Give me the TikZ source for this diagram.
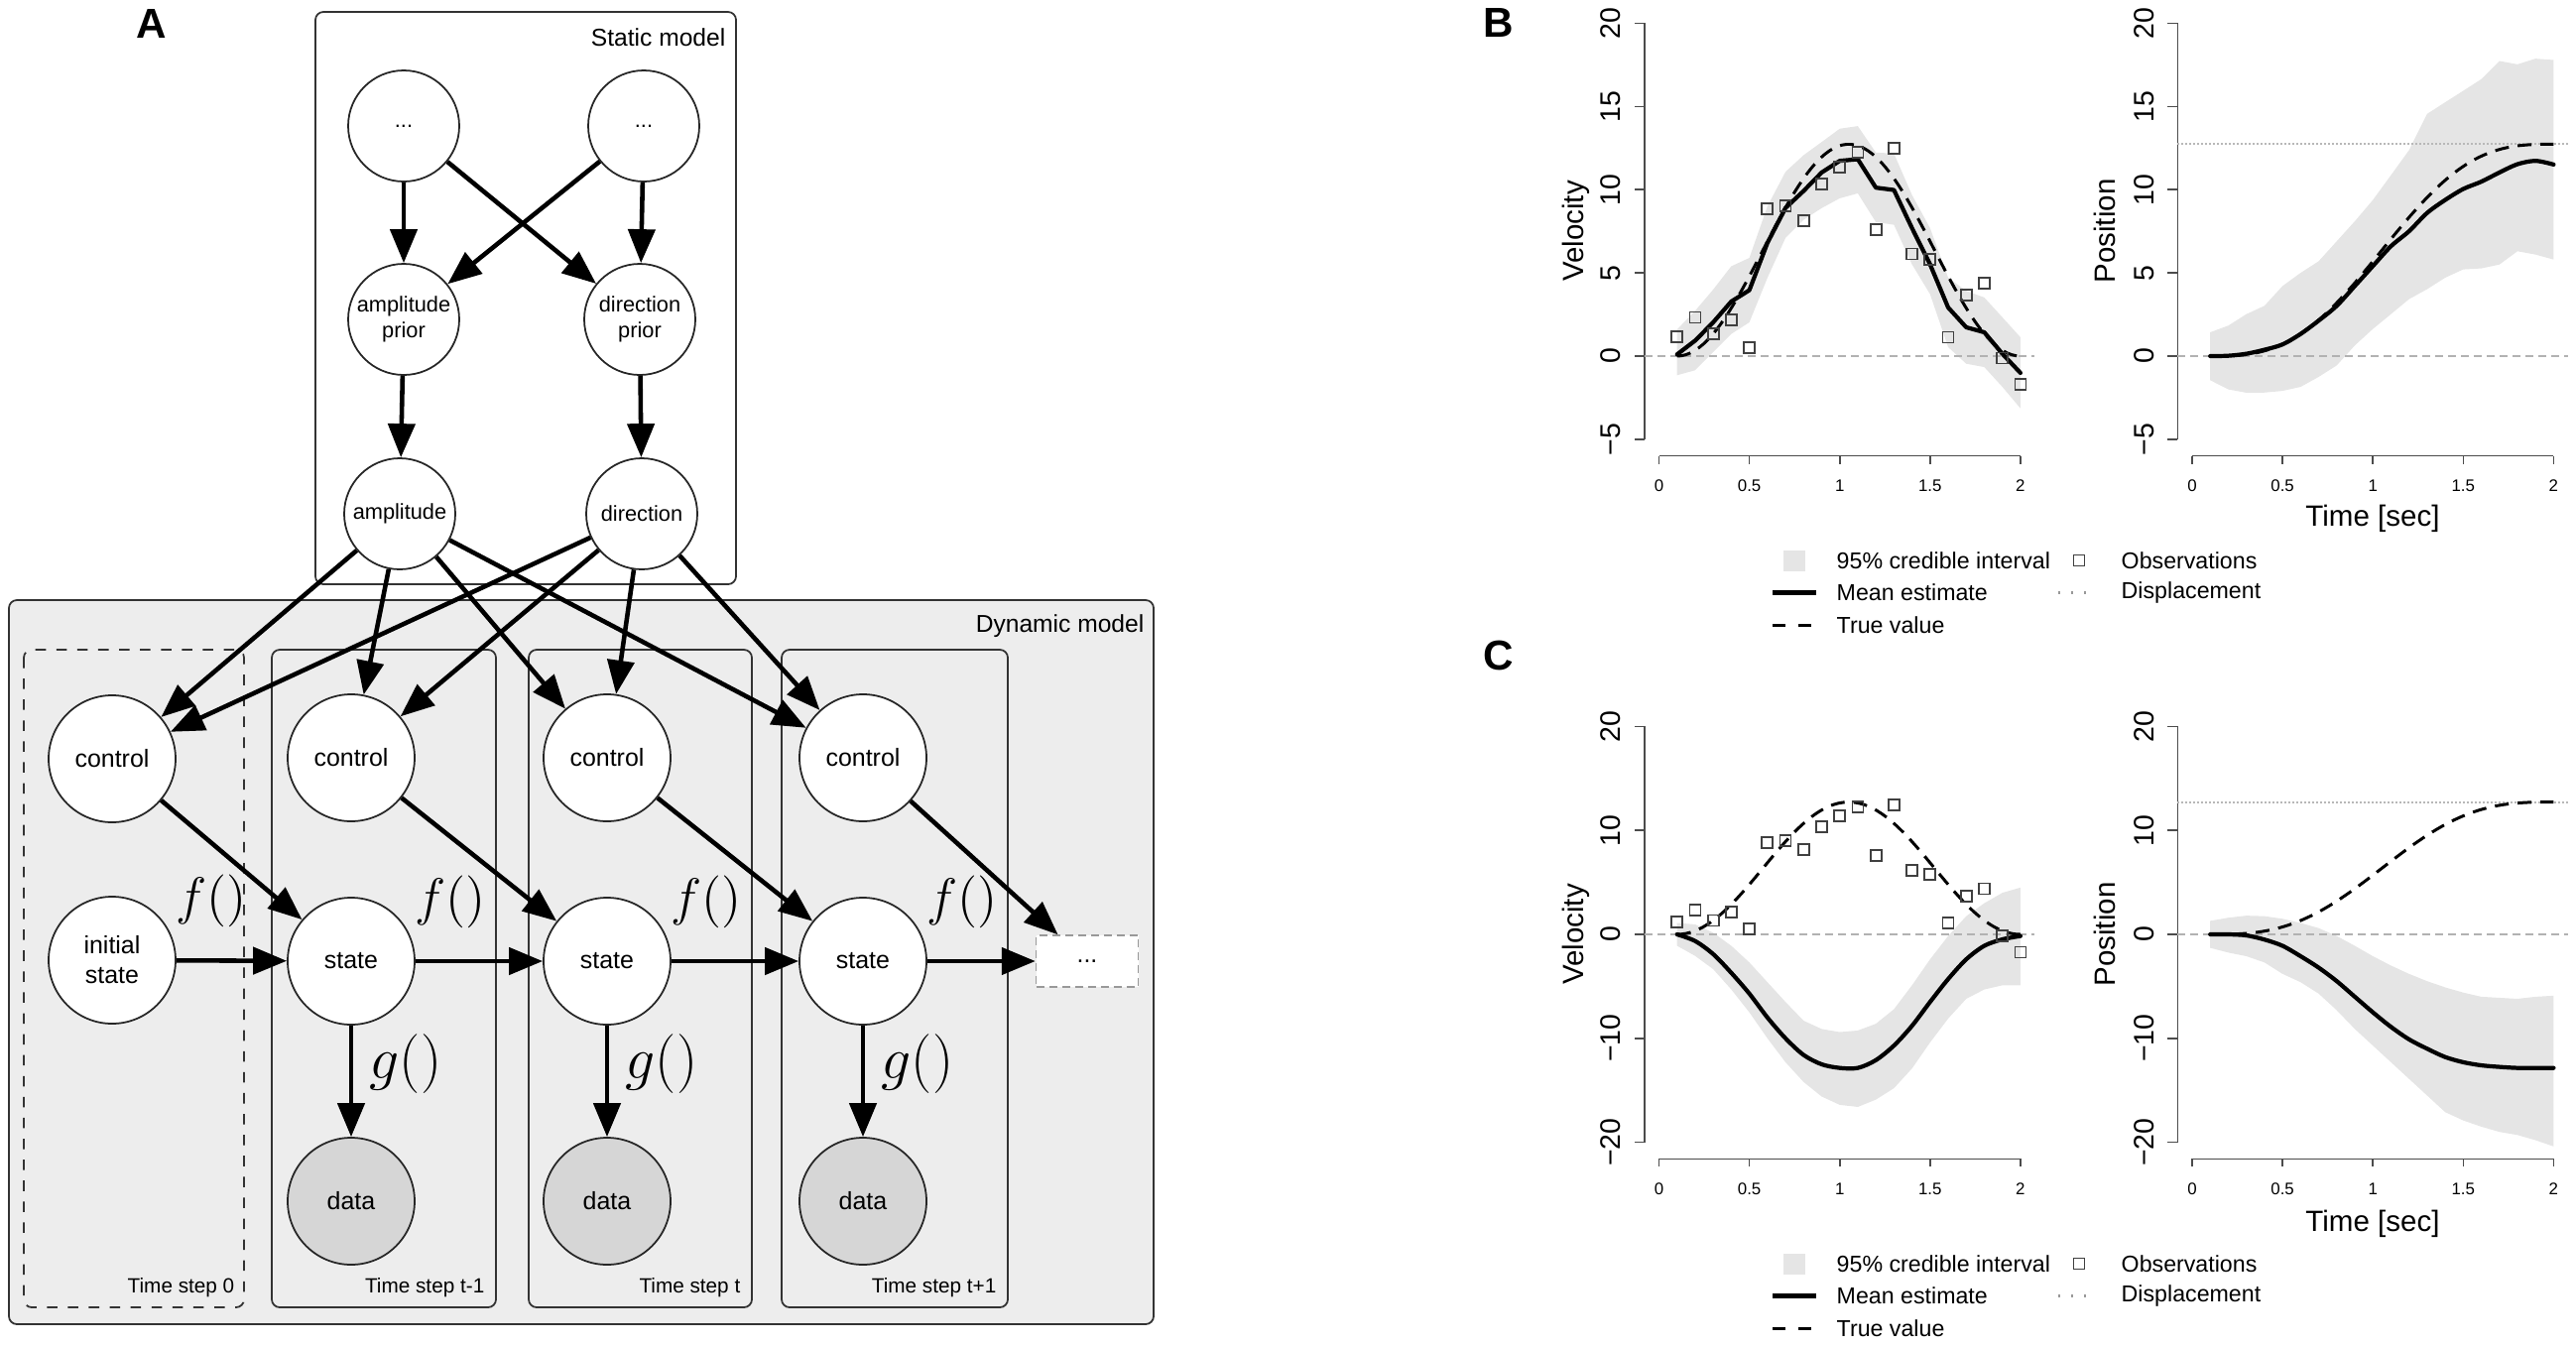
\documentclass[tikz,border=0pt]{standalone}
\usepackage{fix-cm}
\usepackage[no-math]{fontspec}
\setmainfont{Liberation Sans}
\usepackage{tikz}
\usetikzlibrary{arrows.meta}

\definecolor{plategray}{gray}{0.93}
\definecolor{datagray}{gray}{0.84}
\definecolor{bandgray}{gray}{0.9}

\begin{document}
\begin{tikzpicture}[
    var/.style={circle, draw=black!85, line width=0.5pt, fill=white, minimum size=1.28cm,
        inner sep=0pt, align=center, font=\fontsize{7.1}{8.5}\selectfont},
    svar/.style={var, minimum size=1.12cm, font=\fontsize{6.2}{7.2}\selectfont},
    datavar/.style={var, fill=datagray},
    link/.style={-{Triangle[length=0.34cm,width=0.27cm]}, line width=1.3pt},
    plate/.style={draw=black!80, line width=0.5pt, rounded corners=0.08cm},
    platename/.style={anchor=east, inner sep=0pt, font=\fontsize{7}{8.4}\selectfont},
    steplabel/.style={anchor=east, inner sep=0pt, font=\fontsize{5.9}{7}\selectfont},
    fun/.style={inner sep=0pt, font=\fontsize{15}{17}\selectfont},
    gfun/.style={inner sep=0pt, font=\fontsize{17}{20}\selectfont},
    panel/.style={inner sep=0pt, font=\fontsize{12}{14}\selectfont\bfseries},
    axisline/.style={draw=black!70, line width=0.45pt},
    ytick/.style={rotate=90, inner sep=0pt, font=\fontsize{8.1}{9}\selectfont},
    xtick/.style={inner sep=0pt, font=\fontsize{4.8}{5.5}\selectfont},
    axlabel/.style={inner sep=0pt, font=\fontsize{8.4}{10}\selectfont},
    legtext/.style={anchor=west, inner sep=0pt, font=\fontsize{6.6}{8}\selectfont},
    band/.style={fill=bandgray},
    mean/.style={line width=1.2pt, line join=round, line cap=round},
    truth/.style={line width=0.85pt, dash pattern=on 0.14cm off 0.09cm},
    zeroline/.style={draw=black!30, line width=0.4pt, dash pattern=on 0.08cm off 0.05cm},
    displ/.style={draw=black!28, line width=0.6pt, dash pattern=on 0.015cm off 0.025cm},
    obs/.style={draw=black!75, line width=0.5pt, minimum size=0.11cm, inner sep=0pt},
]
\useasboundingbox (0,0) rectangle (25.97,-13.56);

% panel letters
\node[panel] (pA) at (1.53,-0.24) {A};
\node[panel] (pB) at (15.11,-0.23) {B};
\node[panel] (pC) at (15.11,-6.61) {C};

% static model
\draw[plate, fill=white] (3.18,-0.12) rectangle (7.42,-5.89);
\node[platename] (statname) at (7.32,-0.38) {Static model};
\node[svar] (pa) at (4.07,-1.27) {...};
\node[svar] (pb) at (6.49,-1.27) {...};
\node[svar] (ampp) at (4.07,-3.22) {amplitude\\prior};
\node[svar] (dirp) at (6.45,-3.22) {direction\\prior};
\node[svar] (amp) at (4.03,-5.18) {amplitude};
\node[svar] (dir) at (6.47,-5.18) {direction};

% dynamic model
\draw[plate, fill=plategray] (0.09,-6.05) rectangle (11.63,-13.35);
\node[platename] (dynname) at (11.54,-6.31) {Dynamic model};
\draw[plate, dashed] (0.24,-6.55) rectangle (2.46,-13.18);
\node[steplabel] (step0) at (2.37,-12.98) {Time step 0};
\foreach \i/\xl/\xr/\lab in {1/2.74/5.00/t-1, 2/5.33/7.58/t, 3/7.88/10.16/t+1} {
    \draw[plate] (\xl,-6.55) rectangle (\xr,-13.18);
    \node[steplabel] (step\i) at (\xr-0.11,-12.98) {Time step \lab};
}

\node[var] (c0) at (1.13,-7.65) {control};
\node[var] (s0) at (1.13,-9.68) {initial\\state};
\foreach \i/\x in {1/3.54, 2/6.12, 3/8.70} {
    \node[var] (c\i) at (\x,-7.64) {control};
    \node[var] (s\i) at (\x,-9.69) {state};
    \node[datavar] (d\i) at (\x,-12.11) {data};
}
\node[draw=black!40, dash pattern=on 0.08cm off 0.05cm, fill=white, minimum width=1.03cm,
    minimum height=0.52cm, font=\fontsize{7.1}{8.5}\selectfont] (more) at (10.96,-9.69) {...};

% edges
\foreach \a in {pa,pb} \foreach \b in {ampp,dirp} \draw[link] (\a) -- (\b);
\draw[link] (ampp) -- (amp);
\draw[link] (dirp) -- (dir);
\foreach \i in {0,...,3} {
    \draw[link] (amp) -- (c\i);
    \draw[link] (dir) -- (c\i);
}
\foreach \i/\j in {0/1, 1/2, 2/3} {
    \draw[link] (c\i) -- (s\j);
    \draw[link] (s\i) -- (s\j);
}
\draw[link] (c3) -- (more);
\draw[link] (s3) -- (more);
\foreach \i in {1,2,3} \draw[link] (s\i) -- (d\i);

\foreach \i in {0,...,3} \node[fun] (f\i) at ([shift={(1.0,0.6)}]s\i) {$f()$};
\foreach \i in {1,2,3} \node[gfun] (g\i) at ([shift={(0.55,-1.04)}]s\i) {$g()$};

% plot frames
\foreach \p/\ox/\oy/\sy/\lo/\nx/\hi/\ax in {bl/16.725/-3.59/0.1678/-5/0/20/-6,
        br/22.10/-3.59/0.1678/-5/0/20/-6,
        cl/16.725/-9.42/0.1048/-20/-10/20/-21.6,
        cr/22.10/-9.42/0.1048/-20/-10/20/-21.6} {
    \begin{scope}[shift={(\ox,\oy)}, x=1.822cm, y=\sy cm]
        \draw[axisline] (-0.08,\lo) -- (-0.08,\hi);
        \foreach \v [count=\k] in {\lo,\nx,...,\hi} {
            \draw[axisline] (-0.08,\v) -- ++(-0.1cm,0);
            \node[ytick] (\p y\k) at ([xshift=-0.34cm]-0.08,\v) {\ifnum\v<0 −\the\numexpr0-\v\relax\else\v\fi};
        }
        \draw[axisline] (0,\ax) -- (2,\ax);
        \foreach \t [count=\k] in {0,0.5,1,1.5,2} {
            \draw[axisline] (\t,\ax) -- ++(0,-0.08cm);
            \node[xtick] (\p x\k) at ([yshift=-0.30cm]\t,\ax) {\t};
        }
    \end{scope}
}

\node[axlabel, rotate=90] (bvel) at (15.89,-2.33) {Velocity};
\node[axlabel, rotate=90] (bpos) at (21.22,-2.33) {Position};
\node[axlabel] (btime) at (23.92,-5.23) {Time [sec]};
\node[axlabel, rotate=90] (cvel) at (15.89,-9.42) {Velocity};
\node[axlabel, rotate=90] (cpos) at (21.22,-9.42) {Position};
\node[axlabel] (ctime) at (23.92,-12.34) {Time [sec]};

% B: velocity
\begin{scope}[shift={(16.725,-3.59)}, x=1.822cm, y=0.1678cm]
    \fill[band] plot coordinates {(0.1,1.6) (0.2,2.72) (0.3,4.0) (0.4,5.4) (0.5,5.9) (0.6,9.0)
        (0.7,11.07) (0.8,12.07) (0.9,12.86) (1.0,13.66) (1.1,13.82) (1.2,12.23) (1.3,12.17)
        (1.4,9.68) (1.5,7.69) (1.6,4.71) (1.7,3.92) (1.8,3.52) (1.9,2.33) (2.0,1.13)
        (2.0,-3.14) (1.9,-1.85) (1.8,-0.66) (1.7,-0.46) (1.6,0.54) (1.5,3.72) (1.4,5.51)
        (1.3,7.89) (1.2,8.05) (1.1,9.78) (1.0,9.48) (0.9,8.89) (0.8,8.19) (0.7,7.1) (0.6,4.7)
        (0.5,2.03) (0.4,1.33) (0.3,0.24) (0.2,-0.85) (0.1,-1.15)} -- cycle;
    \draw[zeroline] (-0.08,0) -- (2.08,0);
    \draw[mean] plot coordinates {(0.1,0.1) (0.2,0.93) (0.3,2.03) (0.4,3.28) (0.5,3.96)
        (0.6,6.8) (0.7,8.9) (0.8,9.92) (0.9,11.03) (1.0,11.73) (1.1,11.83) (1.2,10.12)
        (1.3,9.98) (1.4,7.69) (1.5,5.51) (1.6,2.92) (1.7,1.73) (1.8,1.43) (1.9,0.14) (2.0,-1.01)};
    \draw[truth] plot[domain=0.1:2, samples=80, variable=\t] (\t, {12.73*(sin(180*(\t-0.1)/1.9))^2});
    \foreach \t/\v [count=\k] in {0.1/1.17, 0.2/2.33, 0.3/1.33, 0.4/2.17, 0.5/0.5, 0.6/8.85,
            0.7/9.05, 0.8/8.15, 0.9/10.32, 1.0/11.37, 1.1/12.23, 1.2/7.61, 1.3/12.47,
            1.4/6.14, 1.5/5.81, 1.6/1.13, 1.7/3.66, 1.8/4.39, 1.9/-0.12, 2.0/-1.71}
        \node[obs] (bo\k) at (\t,\v) {};
\end{scope}

% B: position
\begin{scope}[shift={(22.10,-3.59)}, x=1.822cm, y=0.1678cm]
    \fill[band] plot coordinates {(0.1,1.43) (0.2,1.83) (0.3,2.52) (0.4,3.02) (0.5,4.21)
        (0.6,5.0) (0.7,5.7) (0.8,6.9) (0.9,8.1) (1.0,9.38) (1.1,10.87) (1.2,12.37) (1.3,14.55)
        (1.4,15.25) (1.5,15.94) (1.6,16.64) (1.7,17.73) (1.8,17.53) (1.9,17.87) (2.0,17.79)
        (2.0,5.8) (1.9,6.1) (1.8,6.3) (1.7,5.5) (1.6,5.27) (1.5,5.21) (1.4,4.71) (1.3,4.02)
        (1.2,3.42) (1.1,2.52) (1.0,1.63) (0.9,0.64) (0.8,-0.56) (0.7,-1.25) (0.6,-1.85)
        (0.5,-2.09) (0.4,-2.19) (0.3,-2.2) (0.2,-2.0) (0.1,-1.45)} -- cycle;
    \draw[zeroline] (-0.08,0) -- (2.08,0);
    \draw[displ] (-0.08,12.73) -- (2.08,12.73);
    \draw[mean] plot[smooth] coordinates {(0.1,0) (0.2,0.02) (0.3,0.14) (0.4,0.38) (0.5,0.7)
        (0.6,1.33) (0.7,2.13) (0.8,3.02) (0.9,4.21) (1.0,5.41) (1.1,6.6) (1.2,7.5) (1.3,8.6)
        (1.4,9.38) (1.5,10.04) (1.6,10.48) (1.7,11.03) (1.8,11.53) (1.9,11.73) (2.0,11.51)};
    \draw[truth] plot[domain=0.1:2, samples=80, variable=\t]
        (\t, {12.73*((\t-0.1)/1.9 - sin(360*(\t-0.1)/1.9)/(2*pi))});
\end{scope}

% C: velocity
\begin{scope}[shift={(16.725,-9.42)}, x=1.822cm, y=0.1048cm]
    \fill[band] plot coordinates {(0.1,1.1) (0.2,0.96) (0.3,0.16) (0.4,-1.1) (0.5,-2.7)
        (0.6,-4.6) (0.7,-6.5) (0.8,-8.3) (0.9,-9.1) (1.0,-9.4) (1.1,-9.25) (1.2,-8.6) (1.3,-7.2)
        (1.4,-4.9) (1.5,-2.4) (1.6,-0.16) (1.7,1.75) (1.8,3.0) (1.9,4.0) (2.0,4.5)
        (2.0,-4.9) (1.9,-4.9) (1.8,-5.3) (1.7,-6.2) (1.6,-8.1) (1.5,-10.4) (1.4,-12.9)
        (1.3,-14.8) (1.2,-15.9) (1.1,-16.6) (1.0,-16.4) (0.9,-15.6) (0.8,-14.2) (0.7,-12.3)
        (0.6,-10.0) (0.5,-7.5) (0.4,-5.3) (0.3,-3.35) (0.2,-2.07) (0.1,-1.1)} -- cycle;
    \draw[zeroline] (-0.08,0) -- (2.08,0);
    \draw[mean] plot[smooth] coordinates {(0.1,0) (0.2,-0.64) (0.3,-1.9) (0.4,-3.7) (0.5,-5.7)
        (0.6,-8.0) (0.7,-10.0) (0.8,-11.6) (0.9,-12.5) (1.0,-12.85) (1.1,-12.85) (1.2,-12.1)
        (1.3,-10.7) (1.4,-8.8) (1.5,-6.5) (1.6,-4.3) (1.7,-2.4) (1.8,-1.1) (1.9,-0.48) (2.0,-0.16)};
    \draw[truth] plot[domain=0.1:2, samples=80, variable=\t] (\t, {12.73*(sin(180*(\t-0.1)/1.9))^2});
    \foreach \t/\v [count=\k] in {0.1/1.17, 0.2/2.33, 0.3/1.33, 0.4/2.17, 0.5/0.5, 0.6/8.85,
            0.7/9.05, 0.8/8.15, 0.9/10.32, 1.0/11.37, 1.1/12.23, 1.2/7.61, 1.3/12.47,
            1.4/6.14, 1.5/5.81, 1.6/1.13, 1.7/3.66, 1.8/4.39, 1.9/-0.12, 2.0/-1.71}
        \node[obs] (co\k) at (\t,\v) {};
\end{scope}

% C: position
\begin{scope}[shift={(22.10,-9.42)}, x=1.822cm, y=0.1048cm]
    \fill[band] plot coordinates {(0.1,1.3) (0.2,1.6) (0.3,1.8) (0.4,1.75) (0.5,1.5) (0.6,1.1)
        (0.7,0.6) (0.8,-0.16) (0.9,-1.1) (1.0,-2.1) (1.1,-3.0) (1.2,-3.8) (1.3,-4.5) (1.4,-5.1)
        (1.5,-5.6) (1.6,-6.0) (1.7,-6.1) (1.8,-6.2) (1.9,-6.0) (2.0,-5.9)
        (2.0,-20.4) (1.9,-19.8) (1.8,-19.3) (1.7,-19.0) (1.6,-18.5) (1.5,-17.9) (1.4,-17.1)
        (1.3,-15.5) (1.2,-13.9) (1.1,-12.3) (1.0,-10.7) (0.9,-9.1) (0.8,-7.3) (0.7,-5.7)
        (0.6,-4.6) (0.5,-3.8) (0.4,-2.7) (0.3,-2.1) (0.2,-1.75) (0.1,-1.3)} -- cycle;
    \draw[zeroline] (-0.08,0) -- (2.08,0);
    \draw[displ] (-0.08,12.73) -- (2.08,12.73);
    \draw[mean] plot[smooth] coordinates {(0.1,0) (0.2,0) (0.3,-0.1) (0.4,-0.5) (0.5,-1.1)
        (0.6,-2.1) (0.7,-3.2) (0.8,-4.5) (0.9,-6.0) (1.0,-7.5) (1.1,-8.9) (1.2,-10.1) (1.3,-11.0)
        (1.4,-11.8) (1.5,-12.3) (1.6,-12.6) (1.7,-12.75) (1.8,-12.85) (1.9,-12.85) (2.0,-12.85)};
    \draw[truth] plot[domain=0.1:2, samples=80, variable=\t]
        (\t, {12.73*((\t-0.1)/1.9 - sin(360*(\t-0.1)/1.9)/(2*pi))});
\end{scope}

% legends
\foreach \p/\ry in {b/5.65, c/12.74} {
    \fill[band] (17.98,-\ry+0.105) rectangle (18.20,-\ry-0.105);
    \node[legtext] (\p leg1) at (18.51,-\ry) {95\% credible interval};
    \node[obs] (\p legobs) at (20.96,-\ry) {};
    \node[legtext] (\p leg2) at (21.38,-\ry) {Observations};
    \draw[mean, line cap=butt] (17.87,-\ry-0.325) -- (18.31,-\ry-0.325);
    \node[legtext] (\p leg3) at (18.51,-\ry-0.325) {Mean estimate};
    \draw[displ, draw=black!40, line width=0.8pt, dash pattern=on 0.02cm off 0.11cm] (20.75,-\ry-0.325) -- (21.14,-\ry-0.325);
    \node[legtext] (\p leg4) at (21.38,-\ry-0.325) {Displacement};
    \draw[truth, dash pattern=on 0.13cm off 0.13cm] (17.87,-\ry-0.65) -- (18.26,-\ry-0.65);
    \node[legtext] (\p leg5) at (18.51,-\ry-0.65) {True value};
}
\end{tikzpicture}
\end{document}
